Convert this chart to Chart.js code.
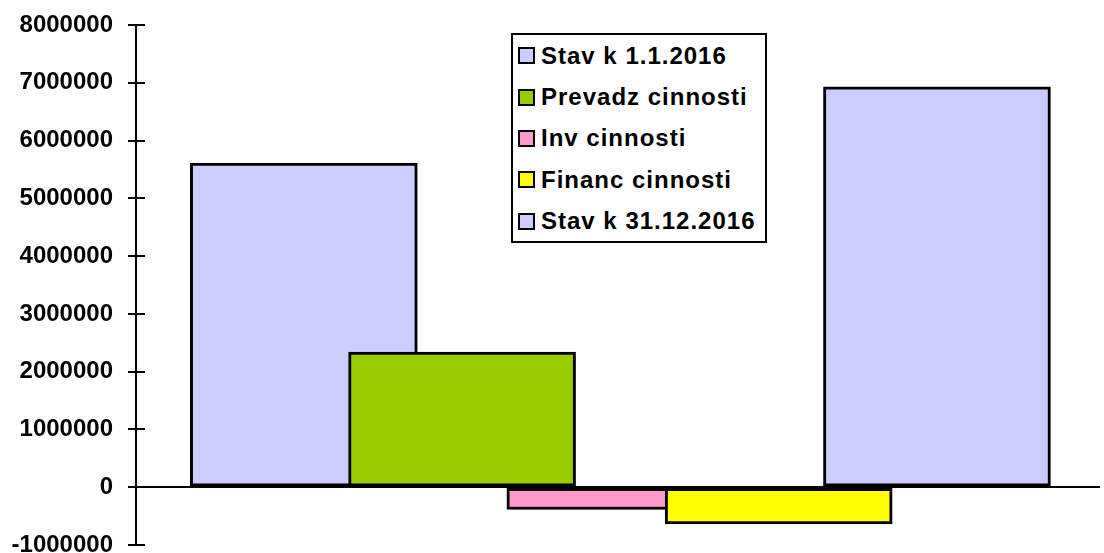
<!DOCTYPE html>
<html lang="sk">
<head>
    <meta charset="UTF-8">
    <title>Cash flow 2016</title>
    <script src="https://cdn.jsdelivr.net/npm/chart.js"></script>
    <style>
        html, body { margin: 0; padding: 0; background: #fff; }
        #wrap { position: relative; width: 1104px; height: 553px; }
        #chart { display: block; }
        #legend {
            position: absolute; left: 511px; top: 33px;
            width: 252px; height: 206px;
            border: 2px solid #000; background: #fff;
            font: bold 24px Arial, "Liberation Sans", sans-serif;
            letter-spacing: 1px;
        }
        .item { display: flex; align-items: center; height: 41.4px; padding-left: 5px; }
        .swatch { width: 13px; height: 13px; border: 2px solid #000; margin-right: 6px; }
    </style>
</head>
<body>
<div id="wrap">
    <canvas id="chart" width="1104" height="553"></canvas>
    <div id="legend"></div>
</div>
<script>
    // data
    const seriesNames = ['Stav k 1.1.2016', 'Prevadz cinnosti', 'Inv cinnosti', 'Financ cinnosti', 'Stav k 31.12.2016'];
    const seriesValues = [5610000, 2340000, -385000, -635000, 6930000];
    const seriesColors = ['#CCCCFF', '#99CC00', '#FF99CC', '#FFFF00', '#CCCCFF'];
    const yTicks = [-1000000, 0, 1000000, 2000000, 3000000, 4000000, 5000000, 6000000, 7000000, 8000000];

    const font = { family: 'Arial, "Liberation Sans", sans-serif', size: 24, weight: 'bold' };

    // each series sits in its own slot, later ones drawn on top
    const datasets = seriesNames.map((name, i) => ({
        label: name,
        data: [{ x: i + 1, y: seriesValues[i] }],
        backgroundColor: seriesColors[i],
        borderColor: '#000',
        borderWidth: 3,
        borderSkipped: false,
        barThickness: 227,
        grouped: false,
        order: seriesNames.length - i
    }));

    // zero line plus the inner half of the y tick marks
    const axisExtras = {
        id: 'axisExtras',
        afterDatasetsDraw(chart) {
            const ctx = chart.ctx, y = chart.scales.y, area = chart.chartArea;
            ctx.save();
            ctx.strokeStyle = '#000';
            ctx.lineWidth = 2;
            const y0 = Math.round(y.getPixelForValue(0));
            ctx.beginPath();
            ctx.moveTo(area.left, y0);
            ctx.lineTo(area.right, y0);
            ctx.stroke();
            yTicks.forEach(v => {
                const py = Math.round(y.getPixelForValue(v));
                ctx.beginPath();
                ctx.moveTo(area.left, py);
                ctx.lineTo(area.left + 9, py);
                ctx.stroke();
            });
            ctx.restore();
        }
    };

    new Chart(document.getElementById('chart'), {
        type: 'bar',
        data: { datasets },
        options: {
            responsive: false,
            animation: false,
            layout: { padding: { top: 25, bottom: 8, right: 4, left: 0 } },
            plugins: { legend: { display: false }, tooltip: { enabled: false } },
            scales: {
                x: { type: 'linear', display: false, offset: false, min: -0.06, max: 6.03 },
                y: {
                    min: -1000000, max: 8000000,
                    afterFit: s => {
                        s.width = 136;
                        s.paddingTop = 0; s.paddingBottom = 0;
                        s.paddingLeft = 0; s.paddingRight = 0;
                    },
                    afterBuildTicks: s => { s.ticks = yTicks.map(v => ({ value: v })); },
                    border: { display: true, color: '#000', width: 2 },
                    grid: { drawOnChartArea: false, tickLength: 8, color: '#000', lineWidth: 2 },
                    ticks: { color: '#000', font, padding: 15, callback: v => String(v) }
                }
            }
        },
        plugins: [axisExtras]
    });

    const legend = document.getElementById('legend');
    seriesNames.forEach((name, i) => {
        const row = document.createElement('div');
        row.className = 'item';
        row.innerHTML = '<span class="swatch" style="background:' + seriesColors[i] + '"></span><span>' + name + '</span>';
        legend.appendChild(row);
    });
</script>
</body>
</html>
